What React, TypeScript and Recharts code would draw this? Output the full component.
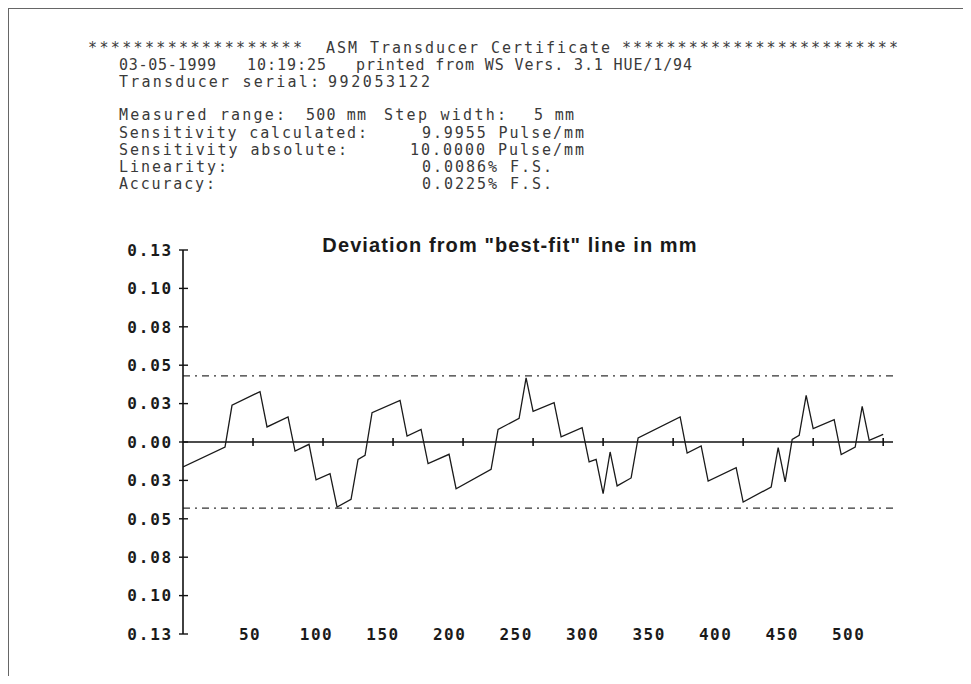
import React from 'react';
import { LineChart, Line, XAxis, YAxis, ReferenceLine } from 'recharts';

// ---- data ----
const positionMm = [0,30,35,55,60,75,80,90,95,105,110,120,125,130,135,155,160,170,175,190,195,220,225,240,245,250,265,270,285,290,295,300,305,310,320,325,355,360,370,375,395,400,420,425,430,435,440,445,450,465,470,480,485,490,500];
const deviationMm = [-0.0163,-0.0033,0.0239,0.0328,0.0098,0.0163,-0.0059,-0.0015,-0.0247,-0.0206,-0.0423,-0.0373,-0.0113,-0.0087,0.0191,0.0271,0.0039,0.0082,-0.0141,-0.0080,-0.0304,-0.0178,0.0082,0.0154,0.0417,0.0200,0.0256,0.0033,0.0093,-0.0130,-0.0113,-0.0336,-0.0065,-0.0286,-0.0234,0.0026,0.0163,-0.0072,-0.0026,-0.0254,-0.0167,-0.0391,-0.0293,-0.0037,-0.0260,0.0017,0.0043,0.0304,0.0087,0.0145,-0.0082,-0.0033,0.0232,0.0011,0.0050];
const xTickValues = [50,100,150,200,250,300,350,400,450,500];
const yTickValues = [0.125,0.1,0.075,0.05,0.025,0,-0.025,-0.05,-0.075,-0.1,-0.125];
const yTickLabels = ['0.13','0.10','0.08','0.05','0.03','0.00','0.03','0.05','0.08','0.10','0.13'];
const toleranceBand = [0.043, -0.043];
const chartTitle = 'Deviation from "best-fit" line in mm';

const headerTexts = [
  ['*******************', 'ASM Transducer Certificate', '*************************'],
  ['03-05-1999', '10:19:25', 'printed from WS Vers. 3.1 HUE/1/94'],
  ['Transducer serial:', '992053122'],
  ['Measured range:', '500 mm', 'Step width:', '5 mm'],
  ['Sensitivity calculated:', '9.9955 Pulse/mm'],
  ['Sensitivity absolute:', '10.0000 Pulse/mm'],
  ['Linearity:', '0.0086% F.S.'],
  ['Accuracy:', '0.0225% F.S.'],
];

// ---- layout (page coords minus 8px body margin) ----
const headerRowY = [40, 57, 74, 107, 125, 142, 159, 176];
const headerSegX = [
  [[80, 214], [318, 284], [614, 276]],
  [[111, 97], [239, 79], [348, 336]],
  [[111, 200], [320, 102]],
  [[111, 166], [298, 60], [376, 122], [526, 40]],
  [[111, 248], [414, 162]],
  [[111, 228], [402, 174]],
  [[111, 108], [414, 130]],
  [[111, 96], [414, 130]],
];

const data = positionMm.map((x, i) => ({ x, y: deviationMm[i] }));

const labelFont = '"DejaVu Sans Mono", monospace';

const YTick = (props: any) => {
  const { x, y, payload } = props;
  const idx = yTickValues.indexOf(payload.value);
  return (
    <g>
      <line x1={x - 4} x2={x + 5} y1={y} y2={y} stroke="#111" strokeWidth={1.4} />
      <text x={x - 10} y={y} dy="0.36em" textAnchor="end" fontFamily={labelFont}
        fontWeight="bold" fontSize={16} letterSpacing={1.8} fill="#1a1a1a">
        {yTickLabels[idx]}
      </text>
    </g>
  );
};

const XTick = (props: any) => {
  const { x, y, payload } = props;
  const lx = x - 3 - (payload.value - 50) * 0.07;
  return (
    <text x={lx} y={y} dy="0.36em" textAnchor="middle" fontFamily={labelFont}
      fontWeight="bold" fontSize={16} letterSpacing={1.5} fill="#1a1a1a">
      {payload.value}
    </text>
  );
};

export default function App() {
  return (
    <div style={{ position: 'relative', width: 955, height: 668, overflow: 'hidden', background: '#fff' }}>
      <div style={{ position: 'absolute', left: 0, top: 0, width: 955, height: 668,
        borderLeft: '1px solid #666', borderTop: '1px solid #666', boxSizing: 'border-box' }} />
      <svg width={955} height={200} style={{ position: 'absolute', left: 0, top: 0 }}>
        {headerTexts.map((row, r) =>
          row.map((t, s) => (
            <text key={`${r}-${s}`} x={headerSegX[r][s][0]} y={headerRowY[r] + 5}
              textLength={headerSegX[r][s][1]} lengthAdjust="spacing"
              fontFamily={labelFont} fontSize={15} fill="#3a3a3a">
              {t}
            </text>
          ))
        )}
      </svg>
      <div style={{ position: 'absolute', left: 202, width: 600, top: 225, textAlign: 'center',
        fontFamily: '"Liberation Sans", Arial, sans-serif', fontWeight: 'bold', fontSize: 20,
        letterSpacing: 1.1, color: '#1a1a1a', lineHeight: '24px' }}>
        {chartTitle}
      </div>
      <div style={{ position: 'absolute', left: 0, top: 0 }}>
        <LineChart width={955} height={668} data={data}
          margin={{ top: 242, right: 70, bottom: 12, left: 115 }}>
          <XAxis dataKey="x" type="number" domain={[0, 507]} ticks={xTickValues}
            height={30} tickLine={false} axisLine={false} tickSize={0} tickMargin={0}
            interval={0} tick={<XTick />} allowDataOverflow />
          <YAxis type="number" domain={[-0.125, 0.125]} ticks={yTickValues} width={60}
            tickLine={false} tickSize={0} tickMargin={0} interval={0}
            axisLine={{ stroke: '#111', strokeWidth: 1.6 }} tick={<YTick />} allowDataOverflow />
          {toleranceBand.map((v) => (
            <ReferenceLine key={`tol${v}`} y={v} stroke="#333" strokeWidth={1.2}
              strokeDasharray="7 5 2 5" />
          ))}
          <ReferenceLine y={0} stroke="#111" strokeWidth={1.7} />
          {xTickValues.map((v) => (
            <ReferenceLine key={`t${v}`} segment={[{ x: v, y: -0.0026 }, { x: v, y: 0.0026 }]}
              stroke="#111" strokeWidth={1.6} />
          ))}
          <Line type="linear" dataKey="y" stroke="#1a1a1a" strokeWidth={1.3} dot={false}
            isAnimationActive={false} />
        </LineChart>
      </div>
    </div>
  );
}
